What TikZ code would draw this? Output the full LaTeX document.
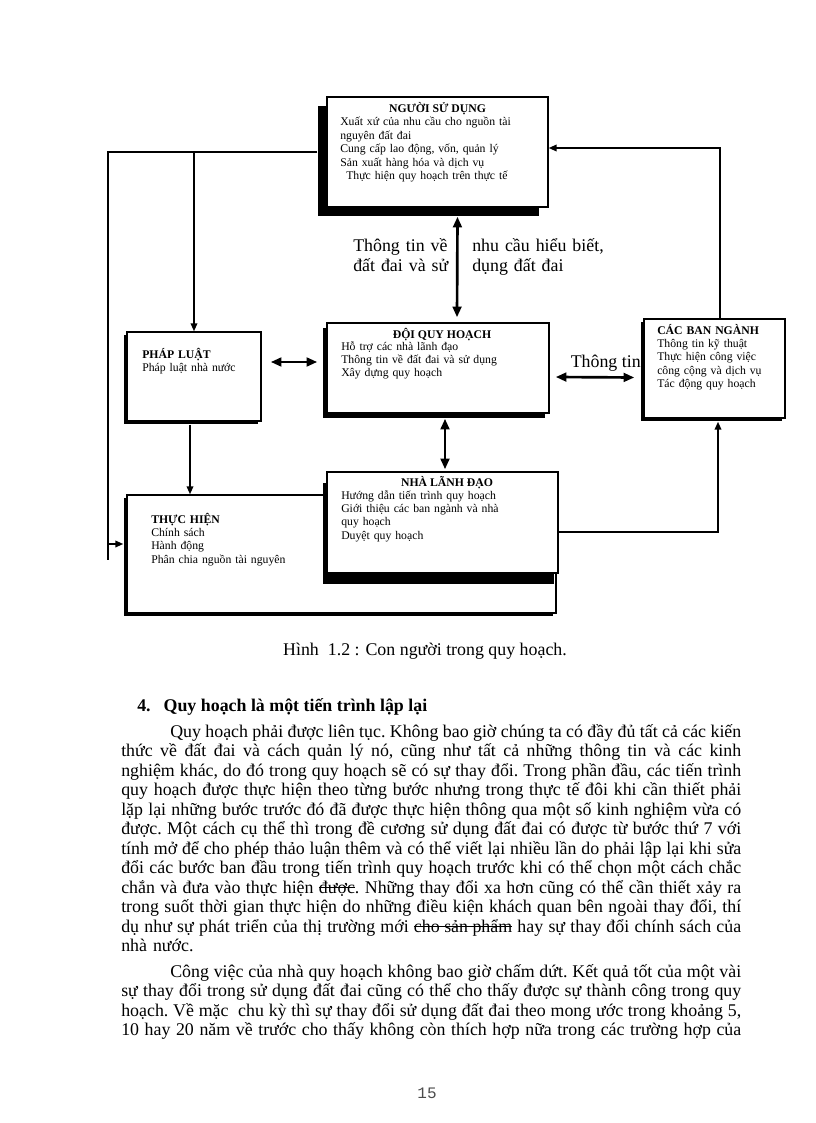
\documentclass[tikz,border=0pt]{standalone}
\usepackage{fontspec}
\setmainfont{Liberation Serif}
\setmonofont{Liberation Mono}
\usetikzlibrary{arrows.meta,shadows,fit,calc,positioning}

\newcommand{\jline}[1]{\hbox to 465pt{\spaceskip=0pt\xspaceskip=0pt\frenchspacing #1}\par}
\newcommand{\strikeword}[1]{\setbox0\hbox{#1}\rlap{\rule[0.28em]{\wd0}{0.6pt}}\box0\relax}

\tikzset{
  box/.style 2 args={draw, fill=white, line width=1.1pt, inner sep=0pt,
    drop shadow={shadow xshift=#1, shadow yshift=#2, opacity=1, fill=black}},
  boxtxt/.style={anchor=base west, align=left, inner sep=0pt, text width=160pt,
    font=\fontsize{8.8}{10.1}\selectfont},
  boxtitle/.style={anchor=base, inner sep=0pt, font=\fontsize{8.8}{10.1}\selectfont\bfseries},
  lbl/.style={anchor=base west, align=left, inner sep=0pt, text width=110pt,
    font=\fontsize{13.4}{15.75}\selectfont},
  bodytxt/.style={anchor=base west, align=left, inner sep=0pt, text width=465pt,
    font=\fontsize{13.4}{14.625}\selectfont},
  conn/.style={line width=1pt},
  arr/.style={line width=1.2pt, -{Triangle[length=6pt,width=5pt]}},
  dbl/.style={line width=2pt, {Triangle[length=8pt,width=6.5pt]}-{Triangle[length=8pt,width=6.5pt]}}
}

\begin{document}
\begin{tikzpicture}[x=0.75pt,y=-0.75pt]
\useasboundingbox (0,0) rectangle (816,1123);

% the six boxes
\node[box={-6.75pt}{-6.75pt}, fit={(327,97) (548,207)}] (nsd) {};
\node[box={-3pt}{-3.75pt}, fit={(327,323) (549,413)}] (dqh) {};
\node[box={-2.25pt}{-2.25pt}, fit={(127,332) (261,421)}] (pl) {};
\node[box={-2.25pt}{-2.25pt}, fit={(644,319) (785,418)}] (cbn) {};
\node[box={-2.25pt}{-2.25pt}, fit={(127,495) (556,613)}] (th) {};
\node[box={-3pt}{-8.25pt}, fit={(327,472) (558,573)}] (nld) {};

% box texts
\node[boxtitle] (nsdtitle) at (437.5,113) {NGƯỜI SỬ DỤNG};
\node[boxtxt] (nsdtext) at (340,126) {Xuất xứ của nhu cầu cho nguồn tài\\nguyên đất đai\\Cung cấp lao động, vốn, quản lý\\Sản xuất hàng hóa và dịch vụ\\\hspace*{4.5pt}Thực hiện quy hoạch trên thực tế};

\node[boxtitle] (dqhtitle) at (442,338) {ĐỘI QUY HOẠCH};
\node[boxtxt] (dqhtext) at (341,350) {Hỗ trợ các nhà lãnh đạo\\Thông tin về đất đai và sử dụng\\Xây dựng quy hoạch};

\node[boxtxt] (pltext) at (142,358) {\textbf{PHÁP LUẬT}\\Pháp luật nhà nước};

\node[boxtxt] (cbntext) at (657,334) {\textbf{CÁC BAN NGÀNH}\\Thông tin kỹ thuật\\Thực hiện công việc\\công cộng và dịch vụ\\Tác động quy hoạch};

\node[boxtitle] (nldtitle) at (447,486) {NHÀ LÃNH ĐẠO};
\node[boxtxt] (nldtext) at (341,499) {Hướng dẫn tiến trình quy hoạch\\Giới thiệu các ban ngành và nhà\\quy hoạch\\Duyệt quy hoạch};

\node[boxtxt] (thtext) at (151,523) {\textbf{THỰC HIỆN}\\Chính sách\\Hành động\\Phân chia nguồn tài nguyên};

% connectors
\coordinate (lt) at (108,152);
\coordinate (lb) at (108,560);
\coordinate (lm) at (108,544);
\coordinate (ly) at (0,362);
\draw[conn] ($(nsd.west)+(-9,0)$) -- (lt) -- (lb);
\draw[arr] (lm) -- ($(th.west |- lm)+(-3,0)$);
\draw[arr] (pl.north |- lt) -- (pl.north);
\draw[dbl] ($(pl.east |- ly)+(9,0)$) -- ($(dqh.west |- ly)+(-9,0)$);
\draw[dbl] ($(nsd.south)+(20,9)$) -- ($(dqh.north)+(19,-5)$);
\draw[dbl] ($(dqh.east)+(6,9)$) -- ($(cbn.west)+(-9,9)$);
\draw[dbl] ($(dqh.south)+(7,5)$) -- ($(nld.north)+(2.5,-2)$);
\coordinate (plout) at ($(pl.south)+(-4,3)$);
\draw[arr] (plout) -- (plout |- th.north);
\draw[arr] ($(nld.east)+(0,9.5)$) -| ($(cbn.south)+(3.5,3)$);
\draw[arr] ($(cbn.north)+(5.5,0)$) |- ($(nsd.east)+(0,-4)$);

% labels on the arrows
\node[lbl] (infoleft) at (353,251) {Thông tin về\\đất đai và sử};
\node[lbl] (inforight) at (472,251) {nhu cầu hiểu biết,\\dụng đất đai};
\node[anchor=base east, inner sep=0pt, font=\fontsize{13.4}{15.75}\selectfont] (infomid) at (641,367) {Thông tin};

% caption and text
\node[anchor=base, inner sep=0pt, font=\fontsize{13.4}{15.75}\selectfont] (caption) at (425,655) {Hình\ \ 1.2 : Con người trong quy hoạch.};
\node[anchor=base west, inner sep=0pt, font=\fontsize{13.4}{15.75}\selectfont\bfseries] (heading) at (137,711) {4.\hspace*{9.75pt}Quy hoạch là một tiến trình lập lại};

\node[bodytxt] (para1) at (121,737) {%
\jline{\hspace*{36.75pt}Quy hoạch phải được liên tục. Không bao giờ chúng ta có đầy đủ tất cả các kiến}%
\jline{thức về đất đai và cách quản lý nó, cũng như tất cả những thông tin và các kinh}%
\jline{nghiệm khác, do đó trong quy hoạch sẽ có sự thay đổi. Trong phần đầu, các tiến trình}%
\jline{quy hoạch được thực hiện theo từng bước nhưng trong thực tế đôi khi cần thiết phải}%
\jline{lặp lại những bước trước đó đã được thực hiện thông qua một số kinh nghiệm vừa có}%
\jline{được. Một cách cụ thể thì trong đề cương sử dụng đất đai có được từ bước thứ 7 với}%
\jline{tính mở để cho phép thảo luận thêm và có thể viết lại nhiều lần do phải lập lại khi sửa}%
\jline{đổi các bước ban đầu trong tiến trình quy hoạch trước khi có thể chọn một cách chắc}%
\jline{chắn và đưa vào thực hiện \strikeword{được}. Những thay đổi xa hơn cũng có thể cần thiết xảy ra}%
\jline{trong suốt thời gian thực hiện do những điều kiện khách quan bên ngoài thay đổi, thí}%
\jline{dụ như sự phát triển của thị trường mới \strikeword{cho sản phẩm} hay sự thay đổi chính sách của}%
\hbox{nhà nước.}};

\node[bodytxt] (para2) at (121,977) {%
\jline{\hspace*{36.75pt}Công việc của nhà quy hoạch không bao giờ chấm dứt. Kết quả tốt của một vài}%
\jline{sự thay đổi trong sử dụng đất đai cũng có thể cho thấy được sự thành công trong quy}%
\jline{hoạch. Về mặc\ \ chu kỳ thì sự thay đổi sử dụng đất đai theo mong ước trong khoảng 5,}%
\jline{10 hay 20 năm về trước cho thấy không còn thích hợp nữa trong các trường hợp của}};

\node[anchor=base, inner sep=0pt, font=\ttfamily\fontsize{12}{14}\selectfont, text=black!70] (pagenum) at (427,1098) {15};

\end{tikzpicture}
\end{document}
